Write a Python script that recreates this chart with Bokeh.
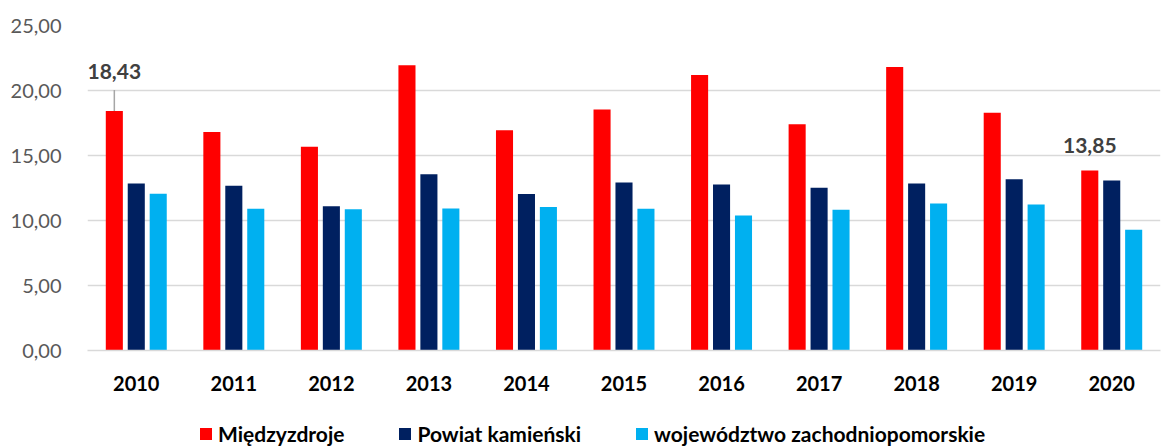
from bokeh.plotting import figure
from bokeh.layouts import column
from bokeh.models import (ColumnDataSource, FactorRange, Range1d, Legend, LegendItem,
                          CustomJSTickFormatter, FixedTicker)
from bokeh.transform import dodge
from bokeh.core.properties import value
from bokeh.embed import file_html
from bokeh.resources import INLINE

years = ['2010', '2011', '2012', '2013', '2014', '2015', '2016', '2017', '2018', '2019', '2020']
miedzyzdroje = [18.43, 16.80, 15.67, 21.95, 16.95, 18.54, 21.20, 17.41, 21.80, 18.28, 13.85]
powiat = [12.85, 12.67, 11.10, 13.56, 12.03, 12.92, 12.77, 12.51, 12.85, 13.18, 13.08]
wojewodztwo = [12.05, 10.90, 10.87, 10.92, 11.03, 10.90, 10.38, 10.82, 11.31, 11.23, 9.28]
series_names = ['Międzyzdroje', 'Powiat kamieński', 'województwo zachodniopomorskie']
colors = ['#FF0000', '#002060', '#00B0F0']
y_ticks = [0, 5, 10, 15, 20, 25]

source = ColumnDataSource(data=dict(year=years, m=miedzyzdroje, p=powiat, w=wojewodztwo))

FONT = "Lato"

p = figure(width=1164, height=410, output_backend="svg", toolbar_location=None,
           x_range=FactorRange(factors=years, range_padding=0),
           y_range=Range1d(0, 25),
           min_border_left=87, min_border_right=4, min_border_top=25, min_border_bottom=60)
p.outline_line_color = None

bw = 0.175
off = 0.225
r1 = p.vbar(x=dodge('year', -off, range=p.x_range), top='m', width=bw, source=source,
            fill_color=colors[0], line_color=None)
r2 = p.vbar(x=dodge('year', 0, range=p.x_range), top='p', width=bw, source=source,
            fill_color=colors[1], line_color=None)
r3 = p.vbar(x=dodge('year', off, range=p.x_range), top='w', width=bw, source=source,
            fill_color=colors[2], line_color=None)

# data labels
lab1 = ColumnDataSource(data=dict(year=[years[0]], v=[miedzyzdroje[0]],
                                  v2=[miedzyzdroje[0] + 1.6],
                                  t=[f"{miedzyzdroje[0]:.2f}".replace('.', ',')]))
lab2 = ColumnDataSource(data=dict(year=[years[-1]], v=[miedzyzdroje[-1]],
                                  t=[f"{miedzyzdroje[-1]:.2f}".replace('.', ',')]))
p.segment(x0=dodge('year', -off, range=p.x_range), x1=dodge('year', -off, range=p.x_range),
          y0='v', y1='v2', source=lab1, line_color='#A6A6A6', line_width=1.5)
p.text(x=dodge('year', -off, range=p.x_range), y='v', text='t', source=lab1,
       y_offset=-39, text_align='center', text_baseline='middle',
       text_font=value(FONT), text_font_style='bold', text_font_size='21px', text_color='#404040')
p.text(x=dodge('year', -off, range=p.x_range), y='v', text='t', source=lab2,
       y_offset=-25, text_align='center', text_baseline='middle',
       text_font=value(FONT), text_font_style='bold', text_font_size='21px', text_color='#404040')

# axes
p.yaxis.ticker = FixedTicker(ticks=y_ticks)
p.yaxis.formatter = CustomJSTickFormatter(code="return tick.toFixed(2).replace('.', ',');")
p.yaxis.axis_line_color = None
p.yaxis.major_tick_line_color = None
p.yaxis.minor_tick_line_color = None
p.yaxis.major_label_text_font = FONT
p.yaxis.major_label_text_font_size = '20px'
p.yaxis.major_label_text_color = '#595959'
p.yaxis.major_label_standoff = 20

p.xaxis.axis_line_color = '#D9D9D9'
p.xaxis.axis_line_width = 1.5
p.xaxis.major_tick_line_color = None
p.xaxis.minor_tick_line_color = None
p.xaxis.major_label_text_font = FONT
p.xaxis.major_label_text_font_style = 'bold'
p.xaxis.major_label_text_font_size = '20px'
p.xaxis.major_label_text_color = '#000000'
p.xaxis.major_label_standoff = 19

p.xgrid.grid_line_color = None
p.ygrid.grid_line_color = '#D9D9D9'
p.ygrid.grid_line_width = 1.5

# legend strip below the chart (frames are aligned with the chart above)
lf = figure(width=1164, height=36, output_backend="svg", toolbar_location=None,
            x_range=Range1d(0, 1), y_range=Range1d(0, 1),
            x_axis_type=None, y_axis_type=None,
            min_border_left=0, min_border_right=0, min_border_top=0, min_border_bottom=0)
lf.outline_line_color = None
lf.xgrid.visible = False
lf.ygrid.visible = False
# off-screen swatch renderers only used to draw the legend keys
swatch = ColumnDataSource(data=dict(x=[-10], top=[0]))
dummies = [lf.vbar(x='x', top='top', width=0.1, source=swatch, fill_color=c, line_color=None)
           for c in colors]
legend = Legend(items=[LegendItem(label=n, renderers=[r]) for n, r in zip(series_names, dummies)],
                orientation='horizontal', location=(111, 0),
                label_text_font=FONT, label_text_font_style='bold', label_text_font_size='21px',
                label_text_color='#000000',
                glyph_width=15, glyph_height=15, label_standoff=5, spacing=53,
                border_line_color=None, background_fill_alpha=0, padding=0, margin=0)
lf.add_layout(legend, 'center')

layout = column(p, lf, spacing=0)
open("out.html", "w").write(file_html(layout, INLINE))
